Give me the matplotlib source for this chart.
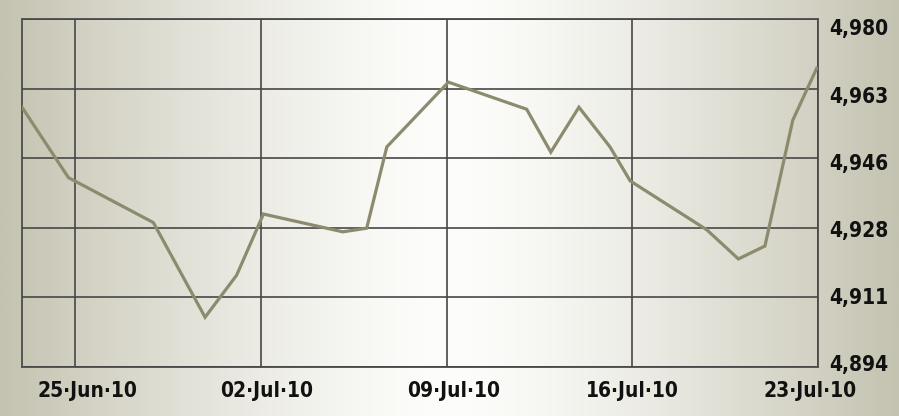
import numpy as np
import pandas as pd
import matplotlib
matplotlib.use('Agg')
import matplotlib.pyplot as plt
import matplotlib.transforms as mtransforms
from matplotlib import font_manager

# values (days after 23 Jun 2010, index level)
day_offsets = [0.0, 1.75, 4.95, 6.9, 8.09, 9.1, 12.09, 12.99, 13.75, 16.07,
               19.02, 19.93, 20.99, 22.16, 22.92, 25.81, 27.0, 28.0, 29.05, 29.95]
levels = [4958.2, 4940.8, 4929.7, 4906.3, 4916.7, 4931.8, 4927.4, 4928.3, 4948.4, 4964.4,
          4957.7, 4947.1, 4958.2, 4948.4, 4940.0, 4927.9, 4920.7, 4923.9, 4955.0, 4967.8]

start = pd.Timestamp('2010-06-23')
dates = start + pd.to_timedelta(day_offsets, unit='D')

x_ticks = pd.to_datetime(['2010-06-25', '2010-07-02', '2010-07-09', '2010-07-16', '2010-07-23'])
x_labels = ['25\u00b7Jun\u00b710', '02\u00b7Jul\u00b710', '09\u00b7Jul\u00b710', '16\u00b7Jul\u00b710', '23\u00b7Jul\u00b710']
y_ticks = np.linspace(4894, 4980, 6)
y_labels = ['4,894', '4,911', '4,928', '4,946', '4,963', '4,980']

W, H = 899, 416
fig = plt.figure(figsize=(W/100, H/100), dpi=100)

# background gradient, light in the middle, beige at the edges
bg = fig.add_axes([0, 0, 1, 1], zorder=-10)
xs = np.linspace(0, 1, 600)
t = np.abs(xs - 0.5) / 0.5
w = t**1.4
edge = np.array([196, 194, 176]) / 255
mid = np.array([253, 253, 251]) / 255
row = mid[None, :]*(1 - w[:, None]) + edge[None, :]*w[:, None]
bg.imshow(row[None, :, :], aspect='auto', extent=[0, 1, 0, 1])
bg.set_axis_off()

ax = fig.add_axes([22/W, (H-367)/H, (818-22)/W, (367-19)/H])
ax.patch.set_alpha(0)

ax.plot(dates, levels, color='#8c8b6e', lw=2.3, solid_joinstyle='miter', zorder=3)

ax.set_xlim(start, pd.Timestamp('2010-07-23'))
ax.set_ylim(4894, 4980)

ax.set_xticks(x_ticks)
ax.set_xticklabels(x_labels)
ax.set_yticks(y_ticks)
ax.set_yticklabels(y_labels)

ax.grid(True, color='#474747', lw=1.2)
ax.set_axisbelow(False)
for s in ax.spines.values():
    s.set_color('#555555')
    s.set_linewidth(1.4)

# condensed bold face for the labels
fp = font_manager.FontProperties(family='DejaVu Sans', weight='bold', stretch='condensed', size=15)
ax.yaxis.tick_right()
ax.tick_params(axis='both', length=0)
ax.tick_params(axis='y', pad=8)
ax.tick_params(axis='x', pad=10)
for lab in ax.get_xticklabels() + ax.get_yticklabels():
    lab.set_fontproperties(fp)
    lab.set_color('#111111')

# nudge labels like the original
x_shift = [12, 6, 7, 0, -8]
for lab, dx in zip(ax.get_xticklabels(), x_shift):
    lab.set_transform(lab.get_transform() + mtransforms.ScaledTranslation(dx/100, 0, fig.dpi_scale_trans))
y_shift = [3.5, 1.5, -1.0, -3.5, -6.0, -8.5]
for lab, dy in zip(ax.get_yticklabels(), y_shift):
    lab.set_transform(lab.get_transform() + mtransforms.ScaledTranslation(0, dy/100, fig.dpi_scale_trans))

fig.savefig('out.png', dpi=100)
